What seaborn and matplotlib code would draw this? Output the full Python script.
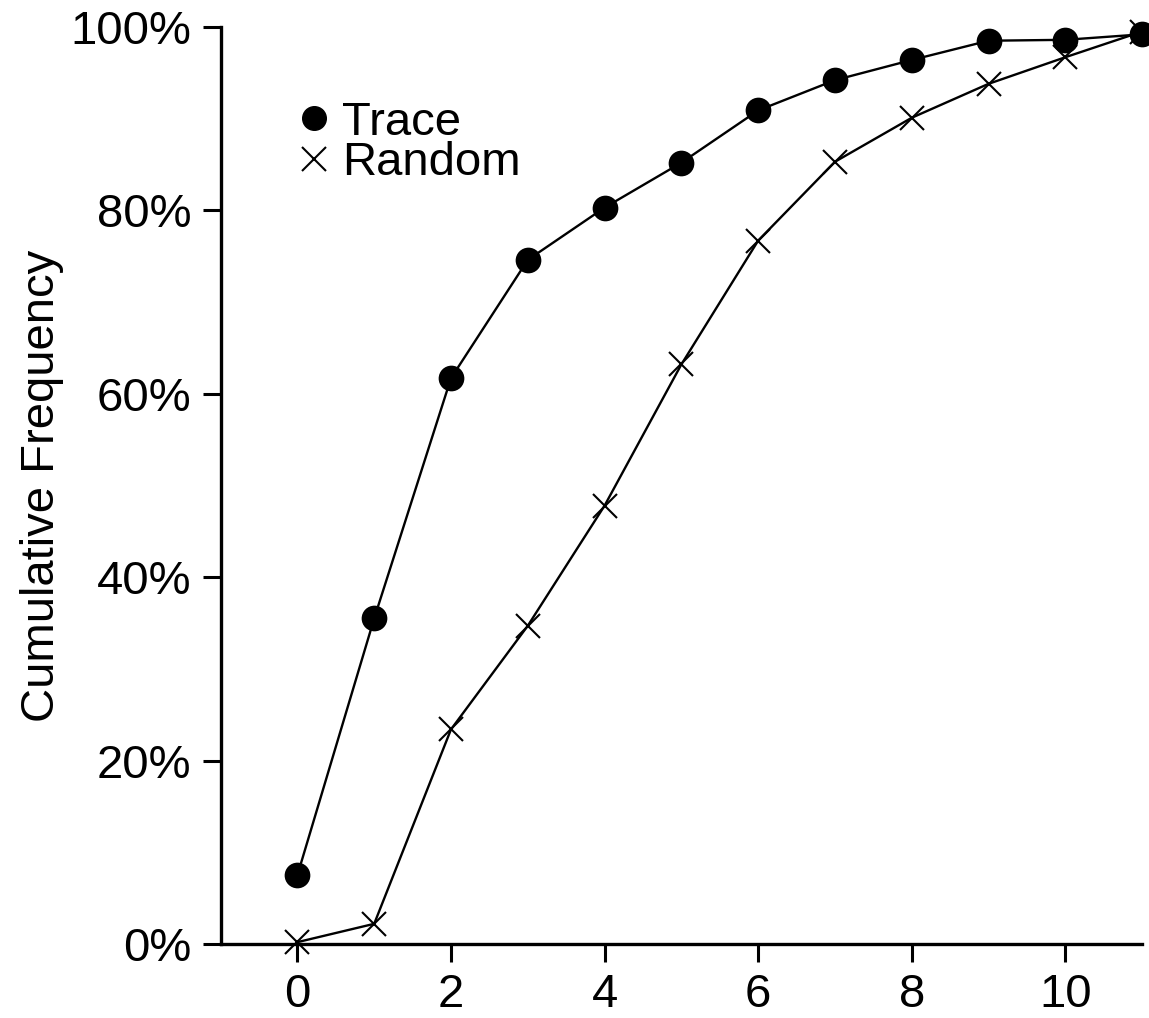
import pandas as pd
import matplotlib
matplotlib.use("Agg")
import matplotlib.pyplot as plt
import seaborn as sns
from matplotlib.lines import Line2D
from matplotlib.ticker import FuncFormatter

# values (cumulative %)
x_vals = [0, 1, 2, 3, 4, 5, 6, 7, 8, 9, 10, 11]
trace = [7.5, 35.5, 61.7, 74.6, 80.3, 85.2, 90.9, 94.2, 96.4, 98.5, 98.6, 99.2]
random_ = [0.2, 2.2, 23.4, 34.7, 47.8, 63.2, 76.7, 85.3, 90.1, 93.8, 96.7, 99.5]
series = ["Trace", "Random"]
markers = ["o", "x"]
y_ticks = [0, 20, 40, 60, 80, 100]
x_ticks = [0, 2, 4, 6, 8, 10]

df = pd.DataFrame({
    "x": x_vals * 2,
    "freq": trace + random_,
    "series": [series[0]] * len(trace) + [series[1]] * len(random_),
})

sns.set_style("ticks")
plt.rcParams["font.family"] = ["Liberation Sans", "DejaVu Sans"]
plt.rcParams["text.color"] = "black"
plt.rcParams["axes.labelcolor"] = "black"
plt.rcParams["xtick.color"] = "black"
plt.rcParams["ytick.color"] = "black"

fs = 34

fig = plt.figure(figsize=(11.49, 10.18), dpi=100)
ax = fig.add_axes([0.192, 0.0727, 0.802, 0.9008])

# one call per series: seaborn won't mix filled and line-art markers
for name, mk in zip(series, markers):
    sub = df[df["series"] == name]
    sns.lineplot(data=sub, x="x", y="freq", marker=mk, color="black", linewidth=1.7,
                 markersize=17, markeredgewidth=1.5, markeredgecolor="black",
                 ax=ax, clip_on=False)

ax.set_xlim(-1, 11)
ax.set_ylim(0, 100)
ax.set_xticks(x_ticks)
ax.set_yticks(y_ticks)
ax.yaxis.set_major_formatter(FuncFormatter(lambda v, p: f"{v:.0f}%"))
ax.set_xlabel("")
ax.set_ylabel("Cumulative Frequency", fontsize=fs, labelpad=5)
ax.tick_params(labelsize=fs, length=13, width=2.2, pad=8, color="black")
sns.despine(ax=ax)
for s in ["left", "bottom"]:
    ax.spines[s].set_linewidth(2.4)
    ax.spines[s].set_color("black")

handles = [Line2D([], [], color="black", marker="o", linestyle="", markersize=17),
           Line2D([], [], color="black", marker="x", linestyle="", markersize=17, markeredgewidth=1.5)]
ax.legend(handles, series, loc="upper left", bbox_to_anchor=(0.06, 0.945), frameon=False,
          fontsize=fs, handlelength=0.6, handletextpad=0.3, labelspacing=-0.08, borderpad=0)

fig.savefig("out.png", dpi=100)
